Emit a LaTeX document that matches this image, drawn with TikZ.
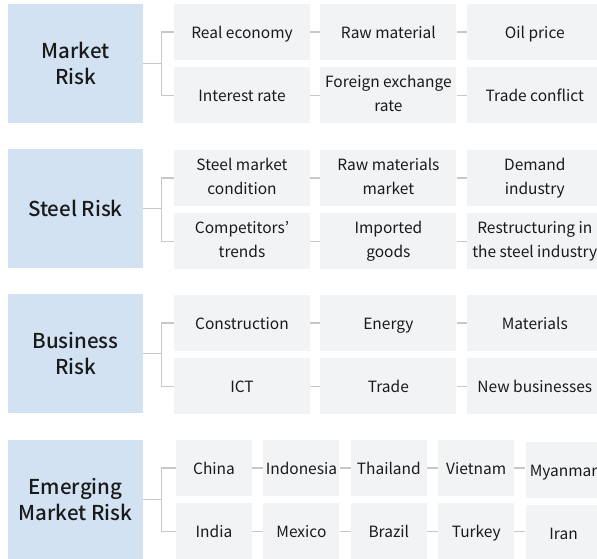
\documentclass[tikz,border=0pt]{standalone}
\usepackage{fontspec}
\setmainfont{Noto Sans CJK KR}[BoldFont={* Medium}]
\usetikzlibrary{positioning}
\definecolor{riskblue}{RGB}{211,226,243}
\definecolor{itemgray}{RGB}{242,243,245}
\definecolor{linkgray}{RGB}{200,200,200}
\definecolor{inkblack}{RGB}{26,26,26}
\begin{document}
\begin{tikzpicture}[x=1pt, y=1pt, text=inkblack,
    risk/.style = {fill=riskblue, minimum width=135pt, minimum height=119pt, inner sep=2pt, align=center, font=\fontsize{20.5}{26}\selectfont\bfseries},
    item/.style = {fill=itemgray, minimum width=136pt, minimum height=56pt, inner sep=2pt, align=center, font=\fontsize{15.5}{24}\selectfont, execute at begin node={\rule[-4pt]{0pt}{21pt}}, execute at end node={\rule[-4pt]{0pt}{21pt}}},
    land/.style = {item, minimum width=76pt},
    link/.style = {draw=linkgray, line width=1.2pt}]
    \useasboundingbox (0,0) rectangle (597,-558);

    % market risk
    \node[risk] (mkt) at (75.5,-63.5) {Market\\Risk};
    \node[item] (m11) at (242,-32) {Real economy};
    \node[item] (m12) [right=10pt of m11] {Raw material};
    \node[item] (m13) [right=10pt of m12] {Oil price};
    \node[item] (m21) [below=7pt of m11] {Interest rate};
    \node[item] (m22) [right=10pt of m21] {Foreign exchange\\rate};
    \node[item] (m23) [right=10pt of m22] {Trade conflict};

    % steel risk
    \node[risk] (stl) at (75.5,-208.5) {Steel Risk};
    \node[item] (s11) at (242,-178) {Steel market\\condition};
    \node[item] (s12) [right=10pt of s11] {Raw materials\\market};
    \node[item] (s13) [right=10pt of s12] {Demand\\industry};
    \node[item] (s21) [below=7pt of s11] {Competitors’\\trends};
    \node[item] (s22) [right=10pt of s21] {Imported\\goods};
    \node[item] (s23) [right=10pt of s22] {Restructuring in\\the steel industry};

    % business risk
    \node[risk] (bus) at (75.5,-353.5) {Business\\Risk};
    \node[item] (b11) at (242,-323) {Construction};
    \node[item] (b12) [right=10pt of b11] {Energy};
    \node[item] (b13) [right=10pt of b12] {Materials};
    \node[item] (b21) [below=7pt of b11] {ICT};
    \node[item] (b22) [right=10pt of b21] {Trade};
    \node[item] (b23) [right=10pt of b22] {New businesses};

    % emerging market risk
    \node[risk] (emg) at (75.5,-499.5) {Emerging\\Market Risk};
    \node[land] (e11) at (214,-468) {China};
    \node[land] (e12) [right=11pt of e11] {Indonesia};
    \node[land] (e13) [right=11pt of e12] {Thailand};
    \node[land] (e14) [right=11pt of e13] {Vietnam};
    \node[land] (e15) [right=11pt of e14, yshift=-2pt] {Myanmar};
    \node[land] (e21) [below=7pt of e11] {India};
    \node[land] (e22) [right=11pt of e21] {Mexico};
    \node[land] (e23) [right=11pt of e22] {Brazil};
    \node[land] (e24) [right=11pt of e23] {Turkey};
    \node[land] (e25) [right=11pt of e24, yshift=-2pt] {Iran};

    % branches
    \coordinate (mj) at ([xshift=18pt]mkt.east);
    \coordinate (sj) at ([xshift=18pt]stl.east);
    \coordinate (bj) at ([xshift=18pt]bus.east);
    \coordinate (ej) at ([xshift=18pt]emg.east);
    \draw[link] (mkt.east) -- (mj);
    \draw[link] (m11.west) -| (mj) |- (m21.west);
    \draw[link] (stl.east) -- (sj);
    \draw[link] (s11.west) -| (sj) |- (s21.west);
    \draw[link] (bus.east) -- (bj);
    \draw[link] (b11.west) -| (bj) |- (b21.west);
    \draw[link] (emg.east) -- (ej);
    \draw[link] (e11.west) -| (ej) |- (e21.west);

    % row links
    \draw[link] (m11) -- (m12);
    \draw[link] (m12) -- (m13);
    \draw[link] (m21) -- (m22);
    \draw[link] (m22) -- (m23);
    \draw[link] (s11) -- (s12);
    \draw[link] (s12) -- (s13);
    \draw[link] (s21) -- (s22);
    \draw[link] (s22) -- (s23);
    \draw[link] (b11) -- (b12);
    \draw[link] (b12) -- (b13);
    \draw[link] (b21) -- (b22);
    \draw[link] (b22) -- (b23);
    \draw[link] (e11) -- (e12);
    \draw[link] (e12) -- (e13);
    \draw[link] (e13) -- (e14);
    \draw[link] (e14) -- (e15.west |- e14);
    \draw[link] (e21) -- (e22);
    \draw[link] (e22) -- (e23);
    \draw[link] (e23) -- (e24);
    \draw[link] (e24) -- (e25.west |- e24);
\end{tikzpicture}
\end{document}
